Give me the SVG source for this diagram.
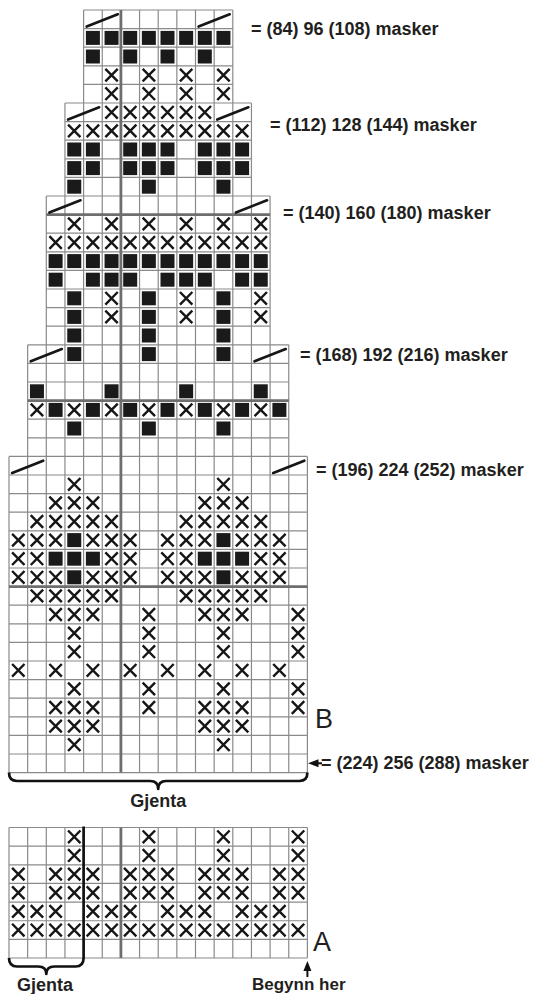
<svg xmlns="http://www.w3.org/2000/svg" xmlns:xlink="http://www.w3.org/1999/xlink" width="536" height="994" viewBox="0 0 536 994">
<style>
.grid{stroke:#8a8a8a;stroke-width:1.2;fill:none}
.thick{stroke:#6e6e6e;stroke-width:2.8;fill:none}
.xs{stroke:#161616;stroke-width:2.4;fill:none}
.sls{stroke:#161616;stroke-width:2.7;stroke-linecap:round;fill:none}
.sq{fill:#1a1a1a}
.brk{stroke:#111;stroke-width:2.7;fill:none;stroke-linejoin:round}
.lbl{font-family:"Liberation Sans",Arial,sans-serif;font-weight:bold;font-size:18px;fill:#231f20}
.big{font-family:"Liberation Sans",Arial,sans-serif;font-size:27px;fill:#231f20}
</style>
<defs>
<path id="x" class="xs" d="M3.1 3L15.5 15.6M15.5 3L3.1 15.6"/>
<rect id="s" class="sq" x="2.3" y="2.3" width="14" height="14"/>
<path id="sl" class="sls" d="M3.1 16.5L34.2 4.3"/>
</defs>

<g id="chart-b-grid">
<path class="grid" d="M83.6 10V103M102.25 10V103M120.9 10V103M139.55 10V103M158.2 10V103M176.85 10V103M195.5 10V103M214.15 10V103M232.8 10V103
M83.6 10H232.8M83.6 28.6H232.8M83.6 47.2H232.8M83.6 65.8H232.8M83.6 84.4H232.8
M64.95 103V196M83.6 103V196M102.25 103V196M120.9 103V196M139.55 103V196M158.2 103V196M176.85 103V196M195.5 103V196M214.15 103V196M232.8 103V196M251.45 103V196
M64.95 103H251.45M64.95 121.6H251.45M64.95 140.2H251.45M64.95 158.8H251.45M64.95 177.4H251.45M46.3 196H270.1
M46.3 196V344.8M64.95 196V344.8M83.6 196V344.8M102.25 196V344.8M120.9 196V344.8M139.55 196V344.8M158.2 196V344.8M176.85 196V344.8M195.5 196V344.8M214.15 196V344.8M232.8 196V344.8M251.45 196V344.8M270.1 196V344.8
M46.3 233.2H270.1M46.3 251.8H270.1M46.3 270.4H270.1M46.3 289H270.1M46.3 307.6H270.1M46.3 326.2H270.1M27.65 344.8H288.75
M27.65 344.8V456.4M46.3 344.8V456.4M64.95 344.8V456.4M83.6 344.8V456.4M102.25 344.8V456.4M120.9 344.8V456.4M139.55 344.8V456.4M158.2 344.8V456.4M176.85 344.8V456.4M195.5 344.8V456.4M214.15 344.8V456.4M232.8 344.8V456.4M251.45 344.8V456.4M270.1 344.8V456.4M288.75 344.8V456.4
M27.65 363.4H288.75M27.65 382H288.75M27.65 419.2H288.75M27.65 437.8H288.75M9 456.4H307.4
M9 456.4V772.6M27.65 456.4V772.6M46.3 456.4V772.6M64.95 456.4V772.6M83.6 456.4V772.6M102.25 456.4V772.6M120.9 456.4V772.6M139.55 456.4V772.6M158.2 456.4V772.6M176.85 456.4V772.6M195.5 456.4V772.6M214.15 456.4V772.6M232.8 456.4V772.6M251.45 456.4V772.6M270.1 456.4V772.6M288.75 456.4V772.6M307.4 456.4V772.6
M9 475H307.4M9 493.6H307.4M9 512.2H307.4M9 530.8H307.4M9 549.4H307.4M9 568H307.4M9 605.2H307.4M9 623.8H307.4M9 642.4H307.4M9 661H307.4M9 679.6H307.4M9 698.2H307.4M9 716.8H307.4M9 735.4H307.4M9 754H307.4M9 772.6H307.4"/>
<path class="thick" d="M120.9 10V772.6M46.3 214.6H270.1M27.65 400.6H288.75M9 586.6H307.4"/>
</g>

<g id="chart-b-symbols">
<g transform="translate(0,10)"><use href="#sl" x="83.6"/><use href="#sl" x="195.5"/></g>
<g transform="translate(0,28.6)"><use href="#s" x="83.6"/><use href="#s" x="102.25"/><use href="#s" x="120.9"/><use href="#s" x="139.55"/><use href="#s" x="158.2"/><use href="#s" x="176.85"/><use href="#s" x="195.5"/><use href="#s" x="214.15"/></g>
<g transform="translate(0,47.2)"><use href="#s" x="83.6"/><use href="#s" x="120.9"/><use href="#s" x="158.2"/><use href="#s" x="195.5"/></g>
<g transform="translate(0,65.8)"><use href="#x" x="102.25"/><use href="#x" x="139.55"/><use href="#x" x="176.85"/><use href="#x" x="214.15"/></g>
<g transform="translate(0,84.4)"><use href="#x" x="102.25"/><use href="#x" x="139.55"/><use href="#x" x="176.85"/><use href="#x" x="214.15"/></g>
<g transform="translate(0,103)"><use href="#sl" x="64.95"/><use href="#x" x="102.25"/><use href="#x" x="120.9"/><use href="#x" x="139.55"/><use href="#x" x="158.2"/><use href="#x" x="176.85"/><use href="#x" x="195.5"/><use href="#sl" x="214.15"/></g>
<g transform="translate(0,121.6)"><use href="#x" x="64.95"/><use href="#x" x="83.6"/><use href="#x" x="102.25"/><use href="#x" x="120.9"/><use href="#x" x="139.55"/><use href="#x" x="158.2"/><use href="#x" x="176.85"/><use href="#x" x="195.5"/><use href="#x" x="214.15"/><use href="#x" x="232.8"/></g>
<g transform="translate(0,140.2)"><use href="#s" x="64.95"/><use href="#s" x="83.6"/><use href="#s" x="120.9"/><use href="#s" x="139.55"/><use href="#s" x="158.2"/><use href="#s" x="195.5"/><use href="#s" x="214.15"/><use href="#s" x="232.8"/></g>
<g transform="translate(0,158.8)"><use href="#s" x="64.95"/><use href="#s" x="83.6"/><use href="#s" x="120.9"/><use href="#s" x="139.55"/><use href="#s" x="158.2"/><use href="#s" x="195.5"/><use href="#s" x="214.15"/><use href="#s" x="232.8"/></g>
<g transform="translate(0,177.4)"><use href="#s" x="64.95"/><use href="#s" x="139.55"/><use href="#s" x="214.15"/></g>
<g transform="translate(0,196)"><use href="#sl" x="46.3"/><use href="#sl" x="232.8"/></g>
<g transform="translate(0,214.6)"><use href="#x" x="64.95"/><use href="#x" x="102.25"/><use href="#x" x="139.55"/><use href="#x" x="176.85"/><use href="#x" x="214.15"/><use href="#x" x="251.45"/></g>
<g transform="translate(0,233.2)"><use href="#x" x="46.3"/><use href="#x" x="64.95"/><use href="#x" x="83.6"/><use href="#x" x="102.25"/><use href="#x" x="120.9"/><use href="#x" x="139.55"/><use href="#x" x="158.2"/><use href="#x" x="176.85"/><use href="#x" x="195.5"/><use href="#x" x="214.15"/><use href="#x" x="232.8"/><use href="#x" x="251.45"/></g>
<g transform="translate(0,251.8)"><use href="#s" x="46.3"/><use href="#s" x="64.95"/><use href="#s" x="83.6"/><use href="#s" x="102.25"/><use href="#s" x="120.9"/><use href="#s" x="139.55"/><use href="#s" x="158.2"/><use href="#s" x="176.85"/><use href="#s" x="195.5"/><use href="#s" x="214.15"/><use href="#s" x="232.8"/><use href="#s" x="251.45"/></g>
<g transform="translate(0,270.4)"><use href="#s" x="46.3"/><use href="#s" x="83.6"/><use href="#s" x="102.25"/><use href="#s" x="120.9"/><use href="#s" x="158.2"/><use href="#s" x="176.85"/><use href="#s" x="195.5"/><use href="#s" x="232.8"/><use href="#s" x="251.45"/></g>
<g transform="translate(0,289)"><use href="#s" x="64.95"/><use href="#x" x="102.25"/><use href="#s" x="139.55"/><use href="#x" x="176.85"/><use href="#s" x="214.15"/><use href="#x" x="251.45"/></g>
<g transform="translate(0,307.6)"><use href="#s" x="64.95"/><use href="#x" x="102.25"/><use href="#s" x="139.55"/><use href="#x" x="176.85"/><use href="#s" x="214.15"/><use href="#x" x="251.45"/></g>
<g transform="translate(0,326.2)"><use href="#s" x="64.95"/><use href="#s" x="139.55"/><use href="#s" x="214.15"/></g>
<g transform="translate(0,344.8)"><use href="#sl" x="27.65"/><use href="#s" x="64.95"/><use href="#s" x="139.55"/><use href="#s" x="214.15"/><use href="#sl" x="251.45"/></g>
<g transform="translate(0,382)"><use href="#s" x="27.65"/><use href="#s" x="102.25"/><use href="#s" x="176.85"/><use href="#s" x="251.45"/></g>
<g transform="translate(0,400.6)"><use href="#x" x="27.65"/><use href="#s" x="46.3"/><use href="#x" x="64.95"/><use href="#s" x="83.6"/><use href="#x" x="102.25"/><use href="#s" x="120.9"/><use href="#x" x="139.55"/><use href="#s" x="158.2"/><use href="#x" x="176.85"/><use href="#s" x="195.5"/><use href="#x" x="214.15"/><use href="#s" x="232.8"/><use href="#x" x="251.45"/><use href="#s" x="270.1"/></g>
<g transform="translate(0,419.2)"><use href="#s" x="64.95"/><use href="#s" x="139.55"/><use href="#s" x="214.15"/></g>
<g transform="translate(0,456.4)"><use href="#sl" x="9"/><use href="#sl" x="270.1"/></g>
<g transform="translate(0,475)"><use href="#x" x="64.95"/><use href="#x" x="214.15"/></g>
<g transform="translate(0,493.6)"><use href="#x" x="46.3"/><use href="#x" x="64.95"/><use href="#x" x="83.6"/><use href="#x" x="195.5"/><use href="#x" x="214.15"/><use href="#x" x="232.8"/></g>
<g transform="translate(0,512.2)"><use href="#x" x="27.65"/><use href="#x" x="46.3"/><use href="#x" x="64.95"/><use href="#x" x="83.6"/><use href="#x" x="102.25"/><use href="#x" x="176.85"/><use href="#x" x="195.5"/><use href="#x" x="214.15"/><use href="#x" x="232.8"/><use href="#x" x="251.45"/></g>
<g transform="translate(0,530.8)"><use href="#x" x="9"/><use href="#x" x="27.65"/><use href="#x" x="46.3"/><use href="#s" x="64.95"/><use href="#x" x="83.6"/><use href="#x" x="102.25"/><use href="#x" x="120.9"/><use href="#x" x="158.2"/><use href="#x" x="176.85"/><use href="#x" x="195.5"/><use href="#s" x="214.15"/><use href="#x" x="232.8"/><use href="#x" x="251.45"/><use href="#x" x="270.1"/></g>
<g transform="translate(0,549.4)"><use href="#x" x="9"/><use href="#x" x="27.65"/><use href="#s" x="46.3"/><use href="#s" x="64.95"/><use href="#s" x="83.6"/><use href="#x" x="102.25"/><use href="#x" x="120.9"/><use href="#x" x="158.2"/><use href="#x" x="176.85"/><use href="#s" x="195.5"/><use href="#s" x="214.15"/><use href="#s" x="232.8"/><use href="#x" x="251.45"/><use href="#x" x="270.1"/></g>
<g transform="translate(0,568)"><use href="#x" x="9"/><use href="#x" x="27.65"/><use href="#x" x="46.3"/><use href="#s" x="64.95"/><use href="#x" x="83.6"/><use href="#x" x="102.25"/><use href="#x" x="120.9"/><use href="#x" x="158.2"/><use href="#x" x="176.85"/><use href="#x" x="195.5"/><use href="#s" x="214.15"/><use href="#x" x="232.8"/><use href="#x" x="251.45"/><use href="#x" x="270.1"/></g>
<g transform="translate(0,586.6)"><use href="#x" x="27.65"/><use href="#x" x="46.3"/><use href="#x" x="64.95"/><use href="#x" x="83.6"/><use href="#x" x="102.25"/><use href="#x" x="176.85"/><use href="#x" x="195.5"/><use href="#x" x="214.15"/><use href="#x" x="232.8"/><use href="#x" x="251.45"/></g>
<g transform="translate(0,605.2)"><use href="#x" x="46.3"/><use href="#x" x="64.95"/><use href="#x" x="83.6"/><use href="#x" x="139.55"/><use href="#x" x="195.5"/><use href="#x" x="214.15"/><use href="#x" x="232.8"/><use href="#x" x="288.75"/></g>
<g transform="translate(0,623.8)"><use href="#x" x="64.95"/><use href="#x" x="139.55"/><use href="#x" x="214.15"/><use href="#x" x="288.75"/></g>
<g transform="translate(0,642.4)"><use href="#x" x="64.95"/><use href="#x" x="139.55"/><use href="#x" x="214.15"/><use href="#x" x="288.75"/></g>
<g transform="translate(0,661)"><use href="#x" x="9"/><use href="#x" x="46.3"/><use href="#x" x="83.6"/><use href="#x" x="120.9"/><use href="#x" x="158.2"/><use href="#x" x="195.5"/><use href="#x" x="232.8"/><use href="#x" x="270.1"/></g>
<g transform="translate(0,679.6)"><use href="#x" x="64.95"/><use href="#x" x="139.55"/><use href="#x" x="214.15"/><use href="#x" x="288.75"/></g>
<g transform="translate(0,698.2)"><use href="#x" x="46.3"/><use href="#x" x="64.95"/><use href="#x" x="83.6"/><use href="#x" x="139.55"/><use href="#x" x="195.5"/><use href="#x" x="214.15"/><use href="#x" x="232.8"/><use href="#x" x="288.75"/></g>
<g transform="translate(0,716.8)"><use href="#x" x="46.3"/><use href="#x" x="64.95"/><use href="#x" x="83.6"/><use href="#x" x="195.5"/><use href="#x" x="214.15"/><use href="#x" x="232.8"/></g>
<g transform="translate(0,735.4)"><use href="#x" x="64.95"/><use href="#x" x="214.15"/></g>
</g>

<g id="chart-a-grid">
<path class="grid" d="M9 827.5V958M27.65 827.5V958M46.3 827.5V958M64.95 827.5V958M83.6 827.5V958M102.25 827.5V958M120.9 827.5V958M139.55 827.5V958M158.2 827.5V958M176.85 827.5V958M195.5 827.5V958M214.15 827.5V958M232.8 827.5V958M251.45 827.5V958M270.1 827.5V958M288.75 827.5V958M307.4 827.5V958
M9 827.5H307.4M9 846.15H307.4M9 864.8H307.4M9 883.45H307.4M9 902.1H307.4M9 920.75H307.4M9 939.4H307.4M9 958H307.4"/>
<path class="thick" d="M120.9 827.5V958"/>
</g>

<g id="chart-a-symbols">
<g transform="translate(0,827.5)"><use href="#x" x="64.95"/><use href="#x" x="139.55"/><use href="#x" x="214.15"/><use href="#x" x="288.75"/></g>
<g transform="translate(0,846.15)"><use href="#x" x="64.95"/><use href="#x" x="139.55"/><use href="#x" x="214.15"/><use href="#x" x="288.75"/></g>
<g transform="translate(0,864.8)"><use href="#x" x="9"/><use href="#x" x="46.3"/><use href="#x" x="64.95"/><use href="#x" x="83.6"/><use href="#x" x="120.9"/><use href="#x" x="139.55"/><use href="#x" x="158.2"/><use href="#x" x="195.5"/><use href="#x" x="214.15"/><use href="#x" x="232.8"/><use href="#x" x="270.1"/><use href="#x" x="288.75"/></g>
<g transform="translate(0,883.45)"><use href="#x" x="9"/><use href="#x" x="46.3"/><use href="#x" x="64.95"/><use href="#x" x="83.6"/><use href="#x" x="120.9"/><use href="#x" x="139.55"/><use href="#x" x="158.2"/><use href="#x" x="195.5"/><use href="#x" x="214.15"/><use href="#x" x="232.8"/><use href="#x" x="270.1"/><use href="#x" x="288.75"/></g>
<g transform="translate(0,902.1)"><use href="#x" x="9"/><use href="#x" x="27.65"/><use href="#x" x="46.3"/><use href="#x" x="83.6"/><use href="#x" x="102.25"/><use href="#x" x="120.9"/><use href="#x" x="158.2"/><use href="#x" x="176.85"/><use href="#x" x="195.5"/><use href="#x" x="232.8"/><use href="#x" x="251.45"/><use href="#x" x="270.1"/></g>
<g transform="translate(0,920.75)"><use href="#x" x="9"/><use href="#x" x="27.65"/><use href="#x" x="46.3"/><use href="#x" x="64.95"/><use href="#x" x="83.6"/><use href="#x" x="102.25"/><use href="#x" x="120.9"/><use href="#x" x="139.55"/><use href="#x" x="158.2"/><use href="#x" x="176.85"/><use href="#x" x="195.5"/><use href="#x" x="214.15"/><use href="#x" x="232.8"/><use href="#x" x="251.45"/><use href="#x" x="270.1"/><use href="#x" x="288.75"/></g>
</g>

<g id="brackets-arrows">
<path class="brk" d="M9 772.6Q9 781 17 781H150.2Q158.2 781 158.2 789Q158.2 781 166.2 781H299.4Q307.4 781 307.4 772.6"/>
<path class="brk" d="M9 958Q9 966.5 17 966.5H38.3Q46.3 966.5 46.3 974Q46.3 966.5 54.3 966.5H75.6Q83.6 966.5 83.6 958V826.5" stroke-width="3"/>
<path d="M308 763.3L318.5 759.3V767.3Z" fill="#111"/>
<path d="M316 763.3H322" stroke="#111" stroke-width="2"/>
<path d="M307.4 961L303.4 971H311.4Z" fill="#111"/>
<path d="M307.4 970V977" stroke="#111" stroke-width="2"/>
</g>

<g id="labels">
<text class="lbl" x="251" y="35">= (84) 96 (108) masker</text>
<text class="lbl" x="270" y="131">= (112) 128 (144) masker</text>
<text class="lbl" x="283" y="219">= (140) 160 (180) masker</text>
<text class="lbl" x="300" y="361">= (168) 192 (216) masker</text>
<text class="lbl" x="316" y="476">= (196) 224 (252) masker</text>
<text class="lbl" x="321" y="769">= (224) 256 (288) masker</text>
<text class="big" x="315" y="728">B</text>
<text class="big" x="313" y="951">A</text>
<text class="lbl" x="158.2" y="807" text-anchor="middle">Gjenta</text>
<text class="lbl" x="45" y="991" text-anchor="middle">Gjenta</text>
<text class="lbl" x="252" y="990" style="font-size:17px">Begynn her</text>
</g>
</svg>
